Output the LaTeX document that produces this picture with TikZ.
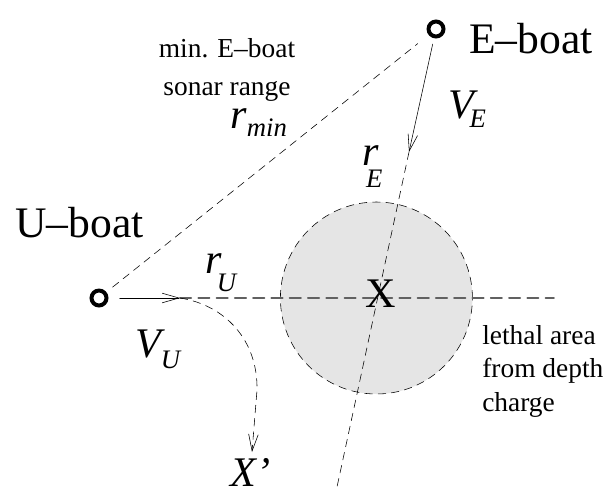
\documentclass[tikz,border=0pt]{standalone}
\usepackage{fontspec}
\setmainfont{Liberation Serif}
\usepackage{tikz}
\usetikzlibrary{arrows.meta}
\newcommand{\sublab}[4]{\textit{#1}\kern#4\raisebox{-#3}{\fontsize{19}{19}\selectfont\textit{#2}}}

\begin{document}
\begin{tikzpicture}[>={Straight Barb[length=4.2mm,width=2.4mm]},line cap=round,
  boat/.style={circle,draw,line width=2.8pt,minimum size=0.375cm,inner sep=0pt},
  big/.style={font=\fontsize{31}{31}\selectfont,inner sep=0pt,anchor=base west},
  small/.style={font=\fontsize{19.5}{23.5}\selectfont,inner sep=0pt,align=left},
  lab/.style={font=\fontsize{30}{30}\selectfont,inner sep=0pt,anchor=base west},
  dsh/.style={dash pattern=on 5.5pt off 4pt}]
\useasboundingbox (0,0) rectangle (15.25,-12.175);
\node[circle,draw,fill=black!10,dsh,minimum size=4.8cm,inner sep=0pt] (zone) at (9.41,-7.45) {};
\node[boat] (U) at (2.475,-7.45) {};
\node[boat] (E) at (10.9,-0.725) {};
\coordinate (vu) at (4.5,-7.45);
\coordinate (ve) at (10.225,-3.8);
\coordinate (hend) at (13.85,-7.45);
\coordinate (eend) at (8.425,-12.175);
\coordinate (xend) at (6.3,-11.3);
\draw[black!62,line width=1.3pt,dash pattern=on 8pt off 5pt] (vu) -- (hend);
\draw[dsh] (ve) -- (eend);
\draw[dsh,shorten <=0.2cm,shorten >=0.35cm] (U) -- (E);
\draw[->,shorten <=0.28cm] (U) -- (vu);
\draw[->,shorten <=0.15cm] (E) -- (ve);
\draw[->,dsh] (vu) .. controls (5.625,-7.625) and (6.45,-8.5) .. (6.425,-9.75) -- (xend);
\node[font=\fontsize{30}{30}\selectfont,inner sep=0pt] (X) at (9.52,-7.35) {X};
\node[big] (ulab) at (0.375,-5.925) {U--boat};
\node[big] (elab) at (11.725,-1.325) {E--boat};
\node[small,align=center,anchor=base,font=\fontsize{19.5}{27}\selectfont] (sonar) at (5.675,-2.375) {min. E--boat\\sonar range};
\node[small,anchor=base west] (lethal) at (12.05,-10.275) {lethal area\\from depth\\charge};
\node[lab] (rmin) at (5.75,-3.2) {\sublab{r}{min}{6pt}{0pt}};
\node[lab] (rE) at (9.05,-4.125) {\sublab{r}{E}{16pt}{-9pt}};
\node[lab] (rU) at (5.125,-6.825) {\sublab{r}{U}{13.5pt}{-3.5pt}};
\node[lab] (VE) at (11.2,-2.95) {\sublab{V}{E}{7pt}{-6pt}};
\node[lab] (VU) at (3.375,-8.925) {\sublab{V}{U}{8pt}{-3pt}};
\node[lab] (xp) at (5.75,-12.15) {\textit{X’}};
\end{tikzpicture}
\end{document}
